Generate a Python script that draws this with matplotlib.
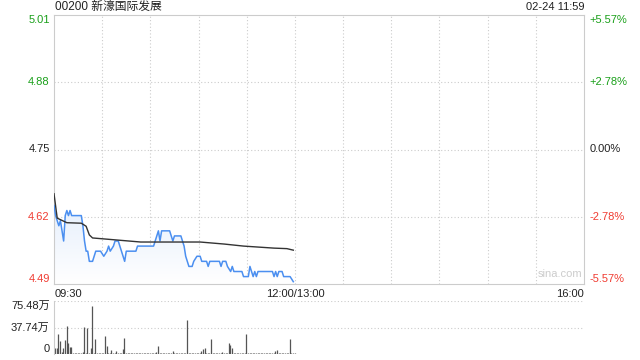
import numpy as np
import matplotlib.pyplot as plt
from matplotlib.colors import LinearSegmentedColormap
from matplotlib.patches import Polygon

plt.rcParams['font.family'] = ['Liberation Sans', 'Noto Sans CJK SC', 'DejaVu Sans']

title = "00200 新濠国际发展"
stamp = "02-24 11:59"
prev_close = 4.75
pct_ticks = [5.57, 2.78, 0.0, -2.78, -5.57]
pct_labels = ["+5.57%", "+2.78%", "0.00%", "-2.78%", "-5.57%"]
price_labels = ["5.01", "4.88", "4.75", "4.62", "4.49"]
vol_ticks = [0, 37.74, 75.48]
vol_labels = ["0", "37.74万", "75.48万"]

# minutes since 09:30 (12:00 = 150, then 13:00 continues)
px_min = [0, 1, 2, 3, 4, 6, 7, 8, 9, 10, 11, 17, 18, 19, 20, 21, 22, 24, 26, 29,
          31, 33, 34, 35, 37, 38, 40, 42, 44, 45, 51, 52, 62, 64, 65, 66, 67, 72, 74, 75,
          79, 81, 82, 84, 86, 87, 89, 91, 92, 95, 96, 97, 103, 104, 105, 107, 108, 110, 111, 112,
          117, 118, 121, 122, 123, 124, 125, 126, 127, 136, 137, 138, 139, 140, 142, 143, 147, 149]
price = [4.64, 4.62, 4.61, 4.60, 4.61, 4.57, 4.62, 4.63, 4.62, 4.63, 4.62, 4.62, 4.60, 4.57, 4.55, 4.55, 4.53, 4.53, 4.55, 4.55,
         4.54, 4.55, 4.56, 4.55, 4.56, 4.57, 4.57, 4.55, 4.53, 4.55, 4.55, 4.56, 4.56, 4.58, 4.59, 4.57, 4.59, 4.59, 4.57, 4.58,
         4.58, 4.56, 4.54, 4.52, 4.52, 4.53, 4.54, 4.54, 4.53, 4.53, 4.52, 4.53, 4.53, 4.52, 4.53, 4.53, 4.52, 4.51, 4.52, 4.51,
         4.51, 4.50, 4.50, 4.52, 4.51, 4.50, 4.51, 4.50, 4.51, 4.51, 4.50, 4.51, 4.50, 4.51, 4.51, 4.50, 4.50, 4.49]

avg_min = [0, 2, 8, 17, 20, 22, 24, 39, 54, 91, 106, 118, 137, 145, 149]
avg = [4.663, 4.615, 4.606, 4.605, 4.599, 4.582, 4.576, 4.572, 4.568, 4.568, 4.564, 4.560, 4.556, 4.555, 4.552]

vol = [8, 9, 29, 19, 3, 8, 20, 40, 16, 10,
       10, 2, 1, 1, 1, 2, 2, 3, 39, 2,
       37, 2, 9, 69, 2, 21, 1, 1, 1, 2,
       1, 26, 11, 1, 1, 6, 1, 1, 4, 1,
       1, 1, 7, 23, 2, 1, 1, 1, 1, 1,
       1, 1, 1, 1, 1, 1, 1, 1, 1, 1,
       2, 1, 2, 3, 11, 2, 1, 1, 1, 1,
       2, 1, 1, 4, 2, 2, 1, 1, 1, 1,
       1, 2, 48, 2, 1, 1, 1, 1, 1, 1,
       1, 4, 7, 9, 1, 1, 1, 21, 1, 1,
       1, 1, 2, 1, 3, 1, 2, 1, 16, 13,
       8, 2, 1, 1, 1, 1, 1, 2, 1, 29,
       2, 1, 2, 1, 1, 2, 1, 1, 1, 2,
       1, 1, 1, 1, 1, 2, 1, 4, 6, 2,
       1, 2, 1, 2, 1, 1, 22, 1, 1, 1]

ymin = prev_close * (1 + pct_ticks[-1] / 100)
ymax = prev_close * (1 + pct_ticks[0] / 100)
tick_vals = [prev_close * (1 + p / 100) for p in pct_ticks]
colors = ['#1aa01a', '#1aa01a', '#222222', '#f03c32', '#f03c32']

fig = plt.figure(figsize=(6.4, 3.6), dpi=100)
ax = fig.add_axes([54 / 640, 1 - 284 / 360, 530 / 640, 269 / 360])
ax.set_xlim(0, 330)
ax.set_ylim(ymin, ymax)
for s in ax.spines.values():
    s.set_color('#cccccc')
ax.set_xticks([])
ax.set_yticks([])
for t in range(30, 330, 30):
    ax.axvline(t, color='#cccccc', lw=0.8, ls=(0, (1, 2)), zorder=0)
for v in tick_vals[1:-1]:
    ax.axhline(v, color='#cccccc', lw=0.8, ls=(0, (1, 2)), zorder=0)

# light gradient under the price line
cmap = LinearSegmentedColormap.from_list('fade', ['#ffffff', '#e6effc'])
grad = np.linspace(0, 1, 100).reshape(-1, 1)
img = ax.imshow(grad, cmap=cmap, aspect='auto', origin='lower',
                extent=[0, px_min[-1], ymin, max(price)], zorder=1)
poly = Polygon(list(zip(px_min, price)) + [(px_min[-1], ymin), (0, ymin)],
               closed=True, facecolor='none', edgecolor='none')
ax.add_patch(poly)
img.set_clip_path(poly)

ax.plot(px_min, price, color='#4b8ff0', lw=1.1, zorder=3)
ax.plot(avg_min, avg, color='#333333', lw=1.0, zorder=4)

ax.text(0.955, 0.02, "sina.com", transform=ax.transAxes, ha='center', va='bottom',
        fontsize=8, color='#cccccc')

for i, v in enumerate(tick_vals):
    va = 'top' if i == 0 else ('bottom' if i == len(tick_vals) - 1 else 'center')
    ax.text(-0.008, v, price_labels[i], transform=ax.get_yaxis_transform(),
            ha='right', va=va, fontsize=8, color=colors[i])
    ax.text(1.011, v, pct_labels[i], transform=ax.get_yaxis_transform(),
            ha='left', va=va, fontsize=8, color=colors[i])

fig.text(55 / 640, 1 - 7 / 360, title, ha='left', va='center', fontsize=8.5, color='#222222')
fig.text(584 / 640, 1 - 7 / 360, stamp, ha='right', va='center', fontsize=8, color='#222222')

fig.text(55 / 640, 1 - 294 / 360, "09:30", ha='left', va='center', fontsize=8, color='#222222')
fig.text((54 + 150 / 330 * 530) / 640, 1 - 294 / 360, "12:00/13:00", ha='center', va='center',
         fontsize=8, color='#222222')
fig.text(584 / 640, 1 - 294 / 360, "16:00", ha='right', va='center', fontsize=8, color='#222222')

# volume panel
vx = fig.add_axes([54 / 640, 1 - 354 / 360, 530 / 640, 53 / 360])
vx.set_xlim(0, 330)
vx.set_ylim(0, vol_ticks[-1])
vx.vlines(np.arange(len(vol)) + 0.8, 0, vol, color='#555555', lw=0.9, zorder=2)
for s in ['top', 'right', 'bottom']:
    vx.spines[s].set_visible(False)
vx.spines['left'].set_color('#cccccc')
vx.set_xticks([])
vx.set_yticks([])
for v in vol_ticks[1:]:
    vx.axhline(v, color='#cccccc', lw=0.8, ls=(0, (1, 2)), zorder=0)
for v, lab in zip(vol_ticks, vol_labels):
    va = 'top' if v == vol_ticks[-1] else ('bottom' if v == 0 else 'center')
    vx.text(-0.008, v, lab, transform=vx.get_yaxis_transform(), ha='right', va=va,
            fontsize=8, color='#222222')

fig.savefig("out.png", dpi=100)
